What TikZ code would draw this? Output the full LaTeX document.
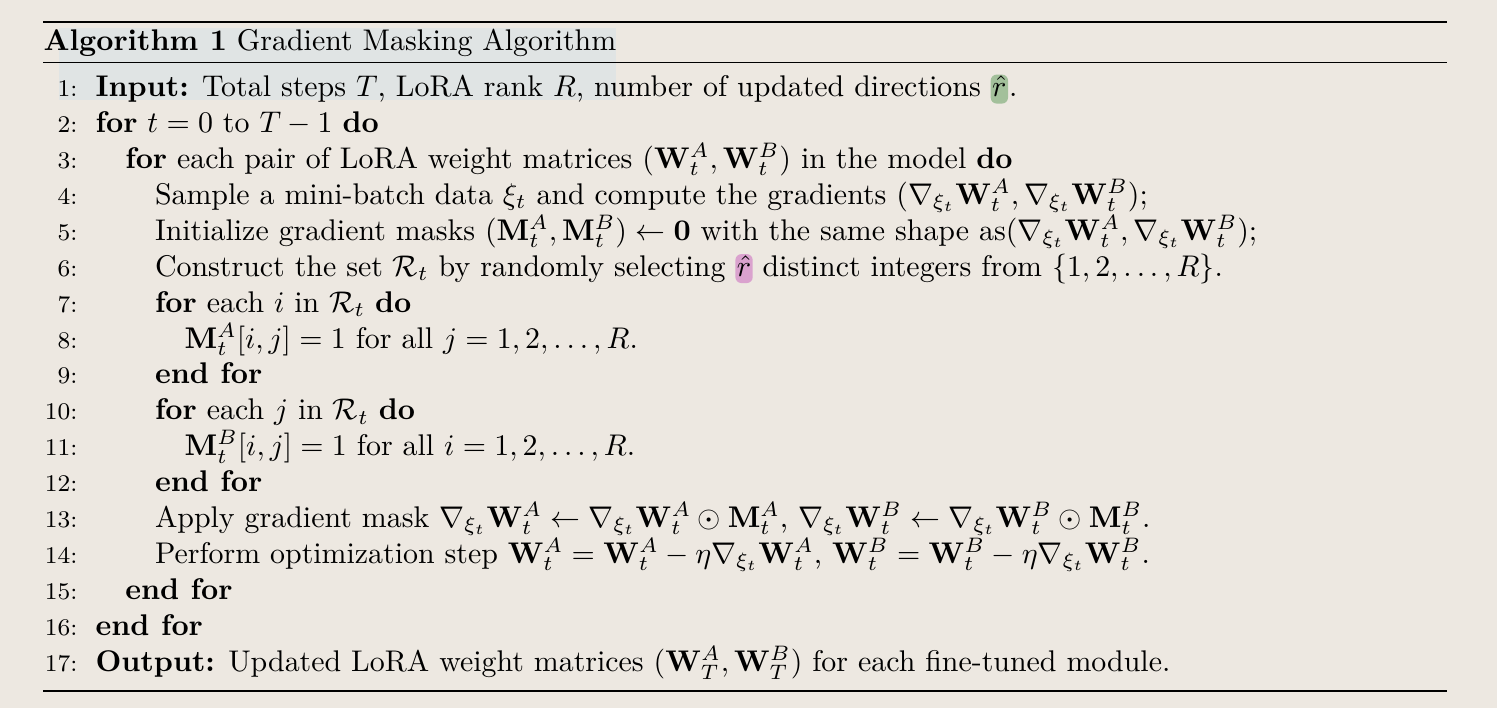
\documentclass[tikz,border=0pt]{standalone}
\usepackage{amsmath}
\usepackage{amssymb}
\usepackage{xcolor}
\usepackage{tikz}
\usetikzlibrary{positioning,calc}
\definecolor{PaperBg}{RGB}{237,232,225}
\definecolor{SelBlue}{RGB}{224,228,228}
\definecolor{MarkGreen}{RGB}{163,192,155}
\definecolor{MarkPink}{RGB}{218,162,206}

\begin{document}
\begin{tikzpicture}[x=0.33445pt, y=-0.33445pt]
	\tikzset{
		ln/.style={anchor=base east, inner sep=0pt, font=\footnotesize},
		tx/.style={anchor=base west, inner sep=0pt},
		hl/.style={anchor=base west, rounded corners=2pt, inner xsep=0.5pt, inner ysep=0pt,
			text height=7.4pt, text depth=2.3pt},
		rl/.style={draw=black, line width=0.8pt}
	}
	\useasboundingbox (0,0) rectangle (1497,708);
	\fill[PaperBg] (0,0) rectangle (1497,708);
	\fill[SelBlue] (59,28) rectangle (616,100.5);
	
	% rules of the float
	\draw[rl] (43,22.3) -- (1447,22.3);
	\draw[rl, line width=0.4pt] (43,62.7) -- (1447,62.7);
	\draw[rl] (43,690.7) -- (1447,690.7);
	
	\node[tx] (cap) at (43,51) {\textbf{Algorithm 1} Gradient Masking Algorithm};
	
	% line numbers
	\node[ln] (n1) at (78,96.7) {1:};
	\node[ln] (n2) at (78,132.6) {2:};
	\node[ln] (n3) at (78,168.5) {3:};
	\node[ln] (n4) at (78,204.4) {4:};
	\node[ln] (n5) at (78,240.3) {5:};
	\node[ln] (n6) at (78,276.2) {6:};
	\node[ln] (n7) at (78,312.1) {7:};
	\node[ln] (n8) at (78,348.0) {8:};
	\node[ln] (n9) at (78,383.9) {9:};
	\node[ln] (n10) at (78,419.8) {10:};
	\node[ln] (n11) at (78,455.7) {11:};
	\node[ln] (n12) at (78,491.6) {12:};
	\node[ln] (n13) at (78,527.5) {13:};
	\node[ln] (n14) at (78,563.4) {14:};
	\node[ln] (n15) at (78,599.3) {15:};
	\node[ln] (n16) at (78,635.2) {16:};
	\node[ln] (n17) at (78,671.1) {17:};
	
	% lines
	\node[tx] (l1) at (95,96.7) {\textbf{Input:} Total steps $T$, LoRA rank $R$, number of updated directions};
	\node[hl, fill=MarkGreen] (rA) at ([xshift=2.9pt]l1.base east) {$\hat{r}$};
	\node[tx] (l1e) at (rA.base east) {.};
	\node[tx] (l2) at (95,132.6) {\textbf{for} $t=0$ to $T-1$ \textbf{do}};
	\node[tx] (l3) at (124.7,168.5) {\textbf{for} each pair of LoRA weight matrices $(\mathbf{W}_t^A, \mathbf{W}_t^B)$ in the model \textbf{do}};
	\node[tx] (l4) at (154.4,204.4) {Sample a mini-batch data $\xi_t$ and compute the gradients $(\nabla_{\xi_t}\mathbf{W}_t^A, \nabla_{\xi_t}\mathbf{W}_t^B)$;};
	\node[tx] (l5) at (154.4,240.3) {Initialize gradient masks $(\mathbf{M}_t^A, \mathbf{M}_t^B) \leftarrow \mathbf{0}$ with the same shape as$(\nabla_{\xi_t}\mathbf{W}_t^A, \nabla_{\xi_t}\mathbf{W}_t^B)$;};
	\node[tx] (l6) at (154.4,276.2) {Construct the set $\mathcal{R}_t$ by randomly selecting};
	\node[hl, fill=MarkPink] (rB) at ([xshift=2.9pt]l6.base east) {$\hat{r}$};
	\node[tx] (l6e) at ([xshift=2.9pt]rB.base east) {distinct integers from $\{1,2,\ldots,R\}$.};
	\node[tx] (l7) at (154.4,312.1) {\textbf{for} each $i$ in $\mathcal{R}_t$ \textbf{do}};
	\node[tx] (l8) at (184.1,348.0) {$\mathbf{M}_t^A[i,j]=1$ for all $j=1,2,\ldots,R$.};
	\node[tx] (l9) at (154.4,383.9) {\textbf{end for}};
	\node[tx] (l10) at (154.4,419.8) {\textbf{for} each $j$ in $\mathcal{R}_t$ \textbf{do}};
	\node[tx] (l11) at (184.1,455.7) {$\mathbf{M}_t^B[i,j]=1$ for all $i=1,2,\ldots,R$.};
	\node[tx] (l12) at (154.4,491.6) {\textbf{end for}};
	\node[tx] (l13) at (154.4,527.5) {Apply gradient mask $\nabla_{\xi_t}\mathbf{W}_t^A \leftarrow \nabla_{\xi_t}\mathbf{W}_t^A \odot \mathbf{M}_t^A$, $\nabla_{\xi_t}\mathbf{W}_t^B \leftarrow \nabla_{\xi_t}\mathbf{W}_t^B \odot \mathbf{M}_t^B$.};
	\node[tx] (l14) at (154.4,563.4) {Perform optimization step $\mathbf{W}_t^A = \mathbf{W}_t^A - \eta\nabla_{\xi_t}\mathbf{W}_t^A$, $\mathbf{W}_t^B = \mathbf{W}_t^B - \eta\nabla_{\xi_t}\mathbf{W}_t^B$.};
	\node[tx] (l15) at (124.7,599.3) {\textbf{end for}};
	\node[tx] (l16) at (95,635.2) {\textbf{end for}};
	\node[tx] (l17) at (95,671.1) {\textbf{Output:} Updated LoRA weight matrices $(\mathbf{W}_T^A, \mathbf{W}_T^B)$ for each fine-tuned module.};
\end{tikzpicture}
\end{document}
